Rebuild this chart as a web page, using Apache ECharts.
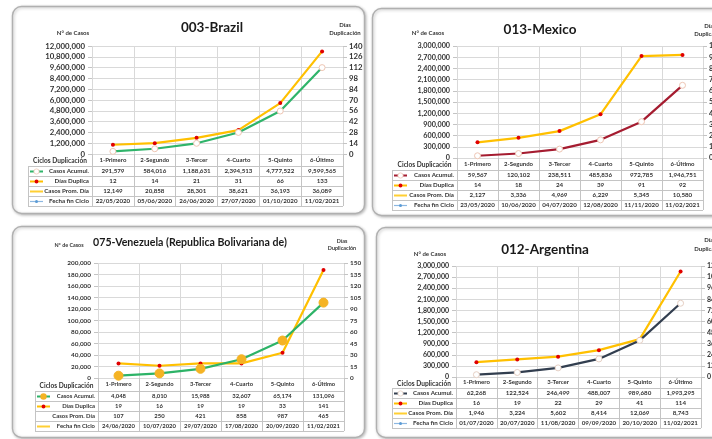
<!DOCTYPE html>
<html><head><meta charset="utf-8">
<script src="https://cdn.jsdelivr.net/npm/echarts@6/dist/echarts.min.js"></script>
<style>html,body{margin:0;padding:0;background:#fff}#c{width:712px;height:439px}</style>
</head><body><div id="c"></div>
<script>
const categories = ['1-Primero','2-Segundo','3-Tercer','4-Cuarto','5-Quinto','6-Último'];
const rowLabels = ['Casos Acumul.','Días Duplica','Casos Prom. Día','Fecha fin Ciclo'];

const brazilCasos = [291579, 584016, 1188631, 2394513, 4777522, 9599565];
const brazilDias  = [12, 14, 21, 31, 66, 133];
const brazilProm  = [12149, 20858, 28301, 38621, 36193, 36089];
const brazilFecha = ['22/05/2020','05/06/2020','26/06/2020','27/07/2020','01/10/2020','11/02/2021'];

const mexicoCasos = [59567, 120102, 238511, 485836, 972785, 1946751];
const mexicoDias  = [14, 18, 24, 39, 91, 92];
const mexicoProm  = [2127, 3336, 4969, 6229, 5345, 10580];
const mexicoFecha = ['23/05/2020','10/06/2020','04/07/2020','12/08/2020','11/11/2020','11/02/2021'];

const venezuelaCasos = [4048, 8010, 15988, 32607, 65174, 131096];
const venezuelaDias  = [19, 16, 19, 19, 33, 141];
const venezuelaProm  = [107, 250, 421, 858, 987, 465];
const venezuelaFecha = ['24/06/2020','10/07/2020','29/07/2020','17/08/2020','20/09/2020','11/02/2021'];

const argentinaCasos = [62268, 122524, 246499, 488007, 989680, 1993295];
const argentinaDias  = [16, 19, 22, 29, 41, 114];
const argentinaProm  = [1946, 3224, 5602, 8414, 12069, 8743];
const argentinaFecha = ['01/07/2020','20/07/2020','11/08/2020','09/09/2020','20/10/2020','11/02/2021'];

const FF = 'Lato, "Noto Sans", sans-serif';
const TXT = '#333333';
const FW = 'bold';
function fmtNum(v){ return typeof v === 'number' ? v.toLocaleString('en-US') : String(v); }

const panels = [
  {title:'003-Brazil', tx:212, ty:28, box:[12,6,352,207], grid:[92,46,251,108], headLeft:28, catH:12,
   left:{max:12000000, interval:1200000}, right:{max:140, interval:14},
   casos:brazilCasos, dias:brazilDias, prom:brazilProm, fecha:brazilFecha,
   casosColor:'#2fb46a', marker:{size:6, fill:'#fff', stroke:'#eec6b4'},
   nCasos:[73,33], diasX:345, diasY:[25,33], keys:['casos','dias','yellow','blue'],
   fs:{axis:7.8, cat:6, tab:6.2, ciclos:6.6, small:6, title:13.5}},
  {title:'013-Mexico', tx:540, ty:30, box:[372,8,400,207], grid:[457,46,246,112], headLeft:392, catH:12,
   left:{max:3000000, interval:300000}, right:{max:100, interval:10},
   casos:mexicoCasos, dias:mexicoDias, prom:mexicoProm, fecha:mexicoFecha,
   casosColor:'#a51c30', marker:{size:6, fill:'#fff', stroke:'#eec6b4'},
   nCasos:[428,33], diasX:710, diasY:[26,34], keys:['casos','dias','yellow','blue'],
   fs:{axis:7.2, cat:6, tab:6.2, ciclos:6.6, small:6, title:13.5}},
  {title:'075-Venezuela (Republica Bolivariana de)', tx:190, ty:243, box:[12,226,352,211], grid:[98,263,246,115], headLeft:35, catH:13,
   left:{max:200000, interval:20000}, right:{max:150, interval:15},
   casos:venezuelaCasos, dias:venezuelaDias, prom:venezuelaProm, fecha:venezuelaFecha,
   casosColor:'#2db367', marker:{size:9, fill:'#f5b323', stroke:'#f5b323'},
   nCasos:[69,245], diasX:342, diasY:[241,248], keys:['casosOrange','dias','none','yellow'],
   fs:{axis:6.4, cat:5.8, tab:5.9, ciclos:6.6, small:5.4, title:10.6}},
  {title:'012-Argentina', tx:545, ty:250, box:[376,227,400,210], grid:[456,266,245,111], headLeft:392, catH:11,
   left:{max:3000000, interval:300000}, right:{max:120, interval:12},
   casos:argentinaCasos, dias:argentinaDias, prom:argentinaProm, fecha:argentinaFecha,
   casosColor:'#323e4f', marker:{size:6, fill:'#fff', stroke:'#e6d0c4'},
   nCasos:[430,254], diasX:710, diasY:[240,249], keys:['casos','dias','yellow','blue'],
   fs:{axis:7, cat:6, tab:6.2, ciclos:6.6, small:6, title:13.5}}
];

const option = {animation:false, backgroundColor:'#fff', grid:[], xAxis:[], yAxis:[], series:[], graphic:{elements:[]}};
const G = option.graphic.elements;
const rowH = 10;

function keyEls(type, p, x, y){
  const x1 = x + 2, x2 = x + 15, xm = (x1 + x2) / 2;
  const line = (c, w) => G.push({type:'line', shape:{x1:x1, y1:y, x2:x2, y2:y}, style:{stroke:c, lineWidth:w||2}});
  const dot = (r, fill, stroke) => G.push({type:'circle', shape:{cx:xm, cy:y, r:r}, style:{fill:fill, stroke:stroke||null, lineWidth:stroke?0.8:0}});
  if (type === 'casos') { line(p.casosColor); dot(2.6, '#fff', p.marker.stroke); }
  else if (type === 'casosOrange') { line(p.casosColor); dot(3.2, '#f5b323'); }
  else if (type === 'dias') { line('#ffc000'); dot(1.9, '#e00000'); }
  else if (type === 'yellow') { line('#ffcf33'); }
  else if (type === 'blue') { line('#8db8e2', 1.2); dot(1.5, '#5b9bd5'); }
}

panels.forEach((p, gi) => {
  const [gl, gt, gw, gh] = p.grid;
  const gb = gt + gh, gr = gl + gw;
  const tableTop = gb + p.catH;
  G.push({type:'rect', z:-10, shape:{x:p.box[0]+0.5, y:p.box[1]+0.5, width:p.box[2], height:p.box[3], r:9},
    style:{fill:'#fff', stroke:'#b0b0b0', lineWidth:1.4, shadowBlur:3, shadowColor:'rgba(0,0,0,0.25)', shadowOffsetX:1, shadowOffsetY:1}});
  option.grid.push({left:gl, top:gt, width:gw, height:gh, containLabel:false, outerBoundsMode:'none'});
  const xb = option.xAxis.length;
  option.xAxis.push({gridIndex:gi, type:'category', position:'bottom', data:categories, boundaryGap:true,
    axisLine:{show:false, onZero:false},
    axisTick:{show:true, interval:0, length:p.catH + rowH*4, lineStyle:{color:'#c4c4c4', width:1}},
    splitLine:{show:true, interval:0, lineStyle:{color:'#d9d9d9', width:1}},
    axisLabel:{interval:0, margin:p.catH/2, verticalAlign:'middle', fontSize:p.fs.cat, fontWeight:FW, fontFamily:FF, color:TXT}});
  [p.casos, p.dias, p.prom, p.fecha].forEach((r, k) => {
    option.xAxis.push({gridIndex:gi, type:'category', position:'bottom', offset:p.catH + k*rowH,
      data:r.map(fmtNum), boundaryGap:true,
      axisLine:{show:false, onZero:false}, axisTick:{show:false}, splitLine:{show:false},
      axisLabel:{interval:0, margin:rowH/2, verticalAlign:'middle', fontSize:p.fs.tab, fontWeight:FW, fontFamily:FF, color:TXT}});
  });
  const yb = option.yAxis.length;
  option.yAxis.push({gridIndex:gi, type:'value', position:'left', min:0, max:p.left.max, interval:p.left.interval,
    axisLine:{show:false}, axisTick:{show:true, length:4, lineStyle:{color:'#c4c4c4'}},
    splitLine:{show:true, lineStyle:{color:'#d9d9d9'}},
    axisLabel:{margin:7, fontSize:p.fs.axis, fontWeight:FW, fontFamily:FF, color:TXT, formatter:v => v.toLocaleString('en-US')}});
  option.yAxis.push({gridIndex:gi, type:'value', position:'right', min:0, max:p.right.max, interval:p.right.interval,
    axisLine:{show:false}, axisTick:{show:true, length:4, lineStyle:{color:'#c4c4c4'}},
    splitLine:{show:false},
    axisLabel:{margin:6, fontSize:p.fs.axis, fontWeight:FW, fontFamily:FF, color:TXT}});
  option.series.push({type:'line', name:'Casos Acumul.', xAxisIndex:xb, yAxisIndex:yb, data:p.casos,
    symbol:'circle', symbolSize:p.marker.size, showAllSymbol:true, z:4,
    lineStyle:{color:p.casosColor, width:2.2}, itemStyle:{color:p.marker.fill, borderColor:p.marker.stroke, borderWidth:1}});
  option.series.push({type:'line', name:'Días Duplica', xAxisIndex:xb, yAxisIndex:yb+1, data:p.dias,
    symbol:'circle', symbolSize:4, showAllSymbol:true, z:3,
    lineStyle:{color:'#ffc000', width:2.2}, itemStyle:{color:'#e00000', borderWidth:0}});

  for (let k = 0; k <= 4; k++) {
    const y = tableTop + k*rowH + 0.5;
    G.push({type:'line', shape:{x1:p.headLeft, y1:y, x2:gr, y2:y}, style:{stroke:'#c4c4c4', lineWidth:1}});
  }
  G.push({type:'line', shape:{x1:p.headLeft+0.5, y1:tableTop, x2:p.headLeft+0.5, y2:tableTop+4*rowH}, style:{stroke:'#c4c4c4', lineWidth:1}});
  G.push({type:'text', x:(p.headLeft + gl)/2, y:gb + p.catH/2 + 1, style:{text:'Ciclos Duplicación', fontSize:p.fs.ciclos, fontWeight:'bold', fontFamily:FF, fill:TXT, align:'center', verticalAlign:'middle'}});
  p.keys.forEach((kt, k) => {
    const cy = tableTop + k*rowH + rowH/2 + 0.5;
    keyEls(kt, p, p.headLeft, cy);
    G.push({type:'text', x:gl - 3, y:cy, style:{text:rowLabels[k], fontSize:p.fs.tab, fontWeight:FW, fontFamily:FF, fill:TXT, align:'right', verticalAlign:'middle'}});
  });
  G.push({type:'text', x:p.tx, y:p.ty, style:{text:p.title, fontSize:p.fs.title, fontWeight:'bold', fontFamily:FF, fill:'#1a1a1a', align:'center', verticalAlign:'middle'}});
  G.push({type:'text', x:p.nCasos[0], y:p.nCasos[1], style:{text:'N° de Casos', fontSize:p.fs.small, fontWeight:FW, fontFamily:FF, fill:TXT, align:'center', verticalAlign:'middle'}});
  G.push({type:'text', x:p.diasX, y:p.diasY[0], style:{text:'Días', fontSize:p.fs.small, fontWeight:FW, fontFamily:FF, fill:TXT, align:'center', verticalAlign:'middle'}});
  G.push({type:'text', x:p.diasX, y:p.diasY[1], style:{text:'Duplicación', fontSize:p.fs.small, fontWeight:FW, fontFamily:FF, fill:TXT, align:'center', verticalAlign:'middle'}});
});

const chart = echarts.init(document.getElementById('c'), null, {renderer:'canvas'});
chart.setOption(option);
</script></body></html>
